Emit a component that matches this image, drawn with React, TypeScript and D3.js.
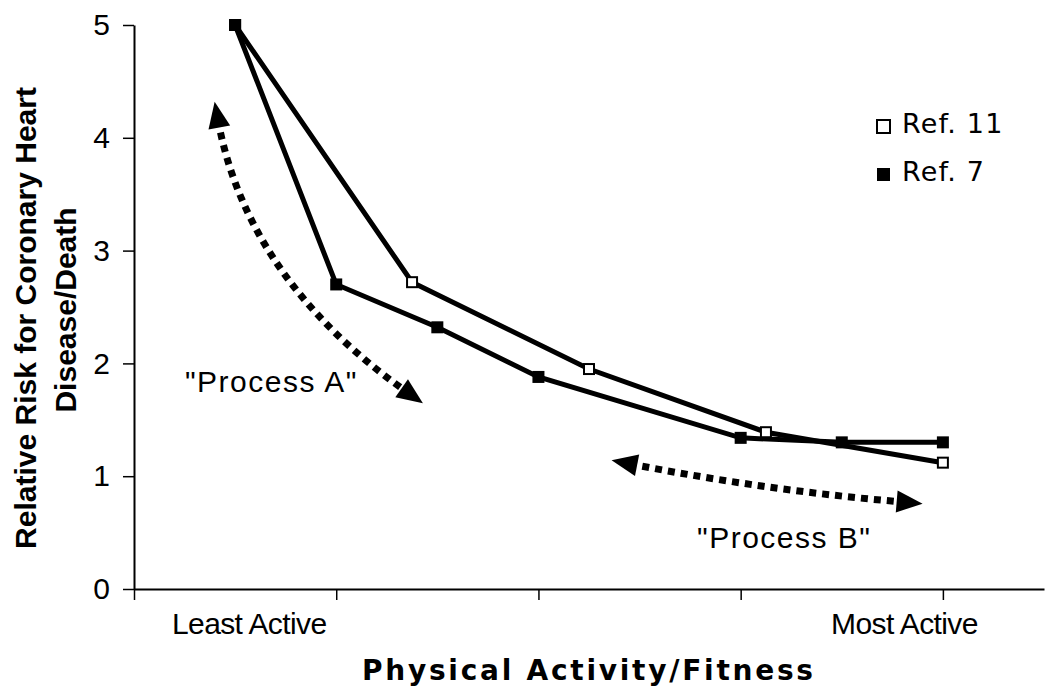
import React, { useEffect, useRef } from 'react';
import * as d3 from 'd3';

// y ticks and x ticks
const yTicks = [0, 1, 2, 3, 4, 5];
const xTicks = [0, 1, 2, 3, 4];

// Ref. 11 (open squares)
const ref11Pos = [0.5, 1.375, 2.25, 3.125, 4];
const ref11Risk = [5, 2.72, 1.95, 1.39, 1.12];

// Ref. 7 (filled squares)
const ref7Pos = [0.5, 1, 1.5, 2, 3, 3.5, 4];
const ref7Risk = [5, 2.7, 2.32, 1.88, 1.34, 1.3, 1.3];

const seriesNames = ['Ref. 11', 'Ref. 7'];
const activityLabels = ['Least Active', 'Most Active'];
const activityAt = [0.57, 3.81];

// annotation arrows, in data units: start, control, end
const processNames = ['"Process A"', '"Process B"'];
const processArrows = [
  [[0.415, 4.16], [0.56, 2.74], [1.355, 1.74]],
  [[2.45, 1.11], [3.14, 0.87], [3.81, 0.77]],
];
const processTextAt = [[0.252, 1.746], [2.784, 0.363]];

const App = () => {
  const svgRef = useRef<SVGSVGElement>(null);

  useEffect(() => {
    const svg = d3.select(svgRef.current);
    svg.selectAll('*').remove();

    const x = d3.scaleLinear().domain([0, 4.5]).range([134, 1044]);
    const y = d3.scaleLinear().domain([0, 5]).range([589, 25]);

    // axes
    const xAxis = svg.append('g')
      .attr('transform', `translate(0,${y(0)})`)
      .call(d3.axisBottom(x).tickValues(xTicks).tickSize(11).tickSizeOuter(0).tickFormat(() => ''));
    xAxis.select('.domain').attr('stroke-width', 2);
    xAxis.selectAll('.tick line').attr('stroke-width', 1.5);

    const yAxis = svg.append('g')
      .attr('transform', `translate(${x(0)},0)`)
      .call(d3.axisLeft(y).tickValues(yTicks).tickSize(11).tickPadding(13).tickSizeOuter(0).tickFormat(d3.format('d')));
    yAxis.select('.domain').attr('stroke-width', 2);
    yAxis.selectAll('.tick line').attr('stroke-width', 1.5);
    yAxis.selectAll('.tick text')
      .attr('font-family', '"Liberation Sans", Arial, sans-serif')
      .attr('font-size', 30)
      .attr('fill', '#000');

    // axis titles
    svg.append('text')
      .attr('transform', 'translate(36,318) rotate(-90)')
      .attr('text-anchor', 'middle')
      .attr('font-family', '"Liberation Sans", Arial, sans-serif')
      .attr('font-weight', 'bold')
      .attr('font-size', 30)
      .text('Relative Risk for Coronary Heart');
    svg.append('text')
      .attr('transform', 'translate(76,310) rotate(-90)')
      .attr('text-anchor', 'middle')
      .attr('font-family', '"Liberation Sans", Arial, sans-serif')
      .attr('font-weight', 'bold')
      .attr('font-size', 30)
      .text('Disease/Death');

    svg.append('text')
      .attr('x', 362)
      .attr('y', 680)
      .attr('font-family', '"DejaVu Sans", sans-serif')
      .attr('font-weight', 'bold')
      .attr('font-size', 28)
      .attr('textLength', 451)
      .attr('lengthAdjust', 'spacing')
      .text('Physical Activity/Fitness');

    activityLabels.forEach((lab, i) => {
      svg.append('text')
        .attr('x', x(activityAt[i]))
        .attr('y', 634)
        .attr('text-anchor', 'middle')
        .attr('font-family', '"Liberation Sans", Arial, sans-serif')
        .attr('font-size', 30)
        .attr('letter-spacing', -0.6)
        .text(lab);
    });

    // lines
    const line = d3.line<[number, number]>().x(d => x(d[0])).y(d => y(d[1]));
    const ref11 = ref11Pos.map((p, i) => [p, ref11Risk[i]] as [number, number]);
    const ref7 = ref7Pos.map((p, i) => [p, ref7Risk[i]] as [number, number]);

    [ref11, ref7].forEach(s => {
      svg.append('path')
        .attr('d', line(s))
        .attr('fill', 'none')
        .attr('stroke', '#000')
        .attr('stroke-width', 5);
    });

    svg.append('g').selectAll('rect')
      .data(ref11)
      .join('rect')
      .attr('x', d => x(d[0]) - 5)
      .attr('y', d => y(d[1]) - 5)
      .attr('width', 10)
      .attr('height', 10)
      .attr('fill', '#fff')
      .attr('stroke', '#000')
      .attr('stroke-width', 2);

    svg.append('g').selectAll('rect')
      .data(ref7)
      .join('rect')
      .attr('x', d => x(d[0]) - 6)
      .attr('y', d => y(d[1]) - 6)
      .attr('width', 12)
      .attr('height', 12)
      .attr('fill', '#000');

    // process arrows
    processArrows.forEach((arr, i) => {
      const [p0, c, p1] = arr.map(d => [x(d[0]), y(d[1])]);
      svg.append('path')
        .attr('d', `M${p0[0]},${p0[1]} Q${c[0]},${c[1]} ${p1[0]},${p1[1]}`)
        .attr('fill', 'none')
        .attr('stroke', '#000')
        .attr('stroke-width', 7)
        .attr('stroke-dasharray', '7 6');

      const head = (end: number[], from: number[]) => {
        const dx = end[0] - from[0];
        const dy = end[1] - from[1];
        const len = Math.hypot(dx, dy);
        const ux = dx / len, uy = dy / len;
        const L = 26, W = 11;
        const tip = [end[0] + ux * L * 0.7, end[1] + uy * L * 0.7];
        const b = [end[0] - ux * L * 0.3, end[1] - uy * L * 0.3];
        const pts = [tip, [b[0] - uy * W, b[1] + ux * W], [b[0] + uy * W, b[1] - ux * W]];
        svg.append('path')
          .attr('d', `M${pts.map(p => p.join(',')).join('L')}Z`)
          .attr('fill', '#000');
      };
      head(p0, c);
      head(p1, c);

      svg.append('text')
        .attr('x', x(processTextAt[i][0]))
        .attr('y', y(processTextAt[i][1]))
        .attr('font-family', '"Liberation Sans", Arial, sans-serif')
        .attr('font-size', 30)
        .attr('letter-spacing', 1.5)
        .text(processNames[i]);
    });

    // legend
    const legend = svg.append('g');
    seriesNames.forEach((name, i) => {
      const row = legend.append('g').attr('transform', `translate(877,${133 + i * 48})`);
      row.append('rect')
        .attr('x', 0)
        .attr('y', -13)
        .attr('width', 13)
        .attr('height', 13)
        .attr('fill', i === 0 ? '#fff' : '#000')
        .attr('stroke', '#000')
        .attr('stroke-width', i === 0 ? 2 : 0);
      row.append('text')
        .attr('x', 25)
        .attr('y', 0)
        .attr('font-family', '"DejaVu Sans", sans-serif')
        .attr('font-size', 27)
        .attr('letter-spacing', 1.2)
        .text(name);
    });
  }, []);

  return (
    <svg
      ref={svgRef}
      width={1050}
      height={695}
      style={{ position: 'absolute', left: 0, top: 0, background: '#fff' }}
    />
  );
};

export default App;
